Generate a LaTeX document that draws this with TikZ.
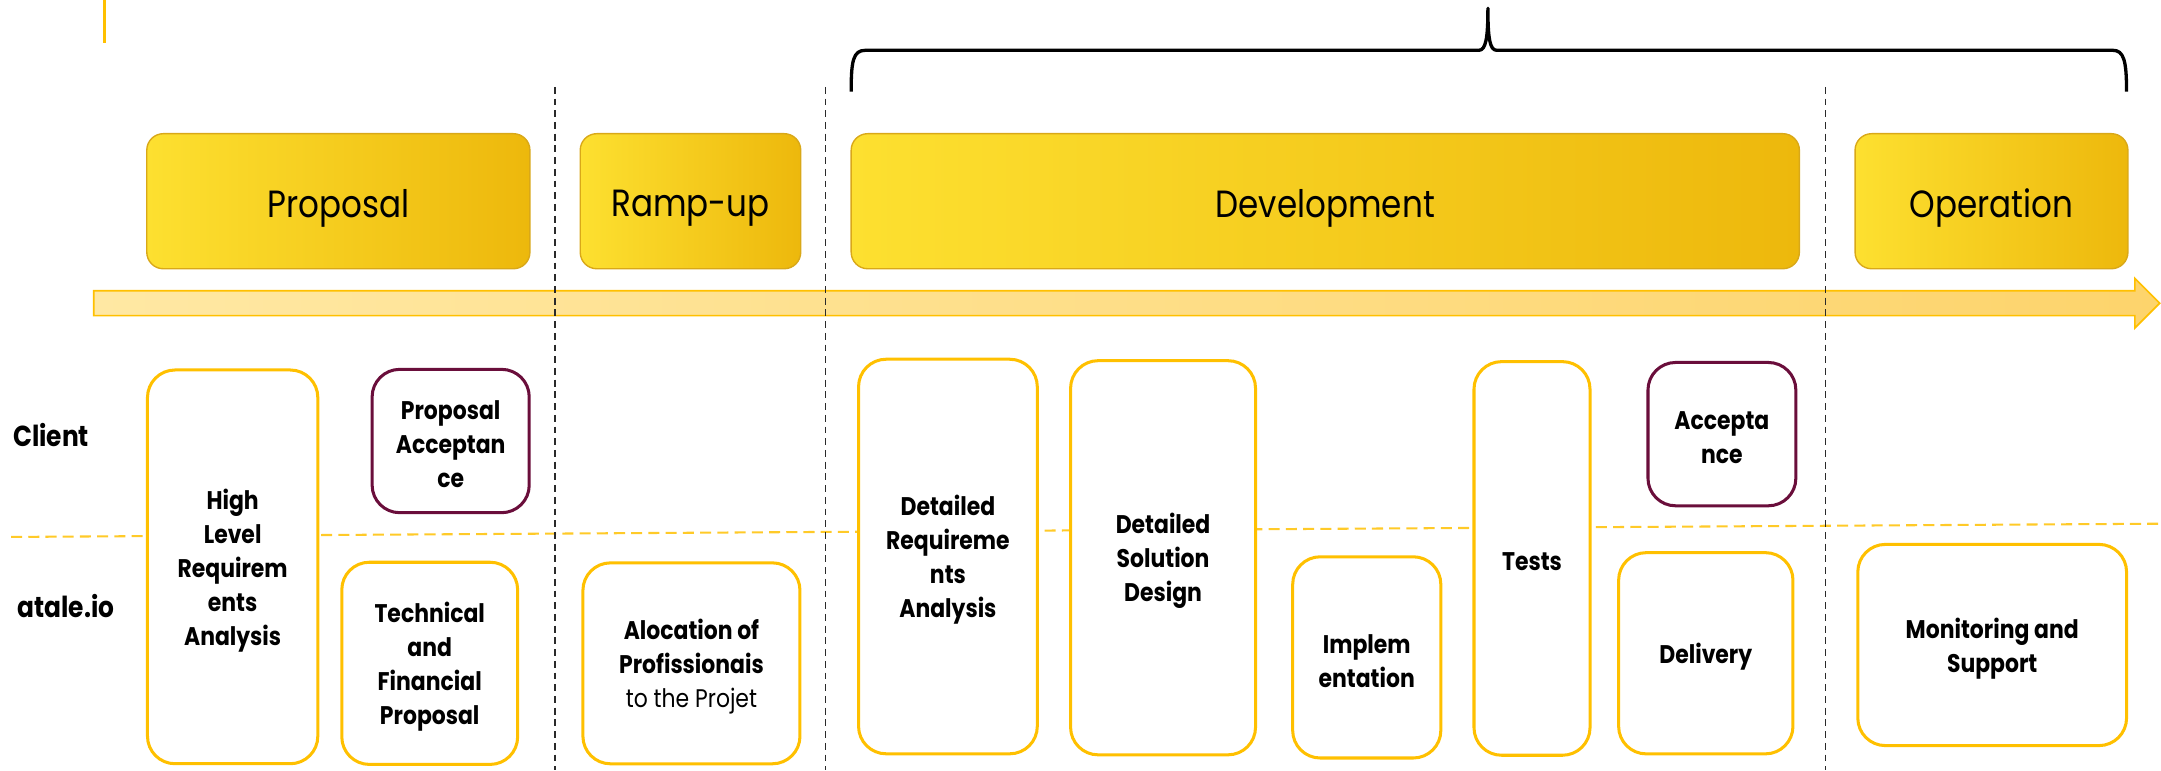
\documentclass[tikz,border=0pt]{standalone}
\usepackage{fontspec}
\setmainfont{Poppins}[FakeStretch=0.86]
\definecolor{gold}{HTML}{FFC000}
\definecolor{golddash}{HTML}{FFCA28}
\definecolor{maroon}{HTML}{6A0E3B}
\definecolor{phaseL}{HTML}{FDE030}
\definecolor{phaseR}{HTML}{EDB80C}
\definecolor{phaseborder}{HTML}{D9A818}
\definecolor{arrowL}{HTML}{FFE8A3}
\definecolor{arrowR}{HTML}{FDD46C}
\definecolor{sepgray}{HTML}{2A2A2A}
\begin{document}
\begin{tikzpicture}[x=1pt,y=-1pt,
  phase/.style={rounded corners=12pt, draw=phaseborder, line width=1pt,
    left color=phaseL, right color=phaseR, inner sep=0pt},
  phasetext/.style={inner sep=0pt, yshift=-5pt, text=black,
    font=\fontsize{27.5}{33}\selectfont},
  task/.style={rounded corners=20pt, draw=gold, line width=2.2pt, fill=white,
    inner sep=0pt},
  clienttask/.style={task, draw=maroon},
  tasktext/.style={inner sep=0pt, yshift=-2.5pt, align=center, text=black,
    font=\fontsize{18.5}{24.7}\selectfont\bfseries},
  lane/.style={font=\fontsize{21}{25}\selectfont\bfseries, anchor=base, inner sep=0pt},
  sep/.style={draw=sepgray, line width=1pt, dash pattern=on 5pt off 3.5pt},
  lanesep/.style={draw=golddash, line width=1.5pt, dash pattern=on 8pt off 4.5pt}]
\useasboundingbox (0,0) rectangle (1568,559);

% top-left yellow mark
\draw[gold, line width=2.5pt] (76,0) -- (76,31);

% curly brace over development + operation
\draw[black, line width=2.4pt, line join=round]
  (617.6,66.5) .. controls (617.6,44) and (619,36.5) .. (628,36.5)
  -- (1073,36.5) .. controls (1078,36.5) and (1079.6,28) .. (1079.6,6)
  .. controls (1079.6,28) and (1081,36.5) .. (1086,36.5)
  -- (1533,36.5) .. controls (1541,36.5) and (1543,44) .. (1543,66.5);

% timeline arrow
\path[draw=gold, line width=1.2pt, line join=miter, left color=arrowL, right color=arrowR]
  (68,211) -- (1549,211) -- (1549,202) -- (1567,220) -- (1549,238) -- (1549,229) -- (68,229) -- cycle;

% lane separator
\coordinate (lsA) at (8,389.6);
\coordinate (lsB) at (1566,380);
\draw[lanesep] (lsA) -- (lsB);

% phase separators
\foreach \x/\n in {402.7/s1, 599/s2, 1324.6/s3}{
  \coordinate (\n top) at (\x,63);
  \coordinate (\n bot) at (\x,559);
  \draw[sep] (\n top) -- (\n bot);
}

% phases
\node[phase, minimum width=278pt, minimum height=98pt,
  label={[phasetext]center:Proposal}] (proposal) at (245.5,146) {};
\node[phase, minimum width=160pt, minimum height=98pt,
  label={[phasetext]center:Ramp-up}] (rampup) at (501,146) {};
\node[phase, minimum width=688pt, minimum height=98pt,
  label={[phasetext]center:Development}] (dev) at (961.6,146) {};
\node[phase, minimum width=198pt, minimum height=98pt,
  label={[phasetext]center:Operation}] (oper) at (1445,146) {};

% lane labels
\node[lane] (client) at (37,323.7) {Client};
\node[lane] (atale) at (47.8,448.4) {atale.io};

% tasks
\node[task, minimum width=123.6pt, minimum height=285.7pt,
  label={[tasktext]center:High\\Level\\Requirem\\ents\\Analysis}] (hlra) at (168.8,411.3) {};
\node[clienttask, minimum width=114pt, minimum height=104pt,
  label={[tasktext]center:Proposal\\Acceptan\\ce}] (pacc) at (327,320) {};
\node[task, minimum width=127.6pt, minimum height=146.7pt,
  label={[tasktext]center:Technical\\and\\Financial\\Proposal}] (tfp) at (311.8,481.3) {};
\node[task, minimum width=157.5pt, minimum height=145.8pt,
  label={[tasktext]center:Alocation of\\Profissionais\\{\mdseries to the Projet}}] (alo) at (501.7,481.3) {};
\node[task, minimum width=129.7pt, minimum height=286.3pt,
  label={[tasktext]center:Detailed\\Requireme\\nts\\Analysis}] (dra) at (687.8,403.8) {};
\node[task, minimum width=134.2pt, minimum height=286pt,
  label={[tasktext]center:Detailed\\Solution\\Design}] (dsd) at (843.9,404.7) {};
\node[task, minimum width=107.5pt, minimum height=146pt,
  label={[tasktext]center:Implem\\entation}] (impl) at (991.7,477) {};
\node[task, minimum width=84.2pt, minimum height=285.6pt,
  label={[tasktext]center:Tests}] (tests) at (1111.6,405.2) {};
\node[clienttask, minimum width=107.3pt, minimum height=104pt,
  label={[tasktext]center:Accepta\\nce}] (acc) at (1249.4,315) {};
\node[task, minimum width=126.5pt, minimum height=146pt,
  label={[tasktext]center:Delivery}] (deliv) at (1237.7,474) {};
\node[task, minimum width=195pt, minimum height=146pt,
  label={[tasktext]center:Monitoring and\\Support}] (mon) at (1445.5,468) {};
\end{tikzpicture}
\end{document}
